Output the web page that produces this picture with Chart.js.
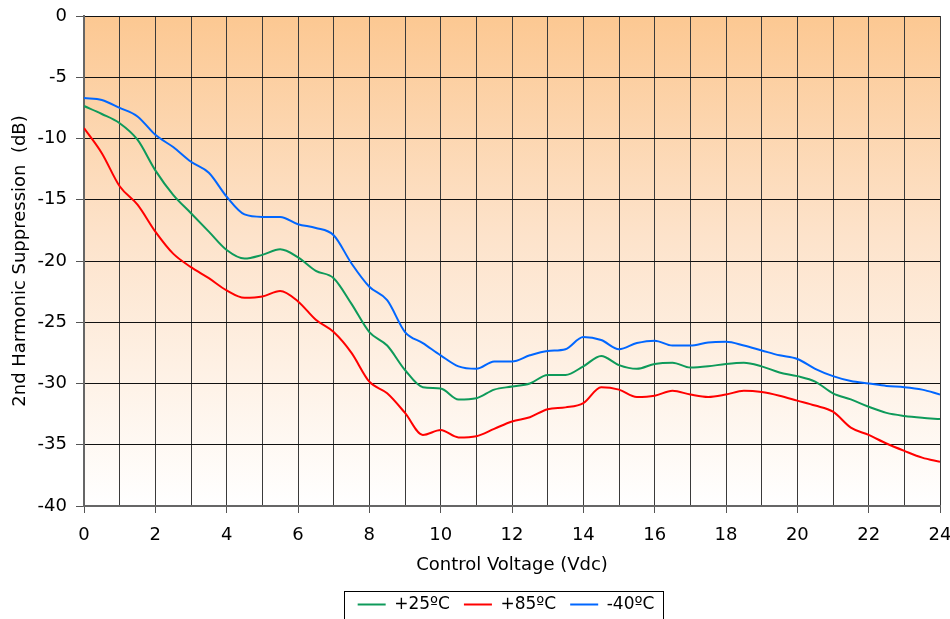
<!DOCTYPE html>
<html>
<head>
<meta charset="utf-8">
<script src="https://cdn.jsdelivr.net/npm/chart.js@4.4.1/dist/chart.umd.min.js"></script>
<style>
  html, body { margin: 0; padding: 0; background: #fff; }
  #wrap { width: 950px; height: 619px; }
</style>
</head>
<body>
<div id="wrap"><canvas id="harmChart" width="950" height="619"></canvas></div>
<script>
// Control voltage (Vdc), sampled every 0.5 V
const VOLTS = [0, 0.5, 1, 1.5, 2, 2.5, 3, 3.5, 4, 4.5, 5, 5.5, 6, 6.5, 7, 7.5, 8, 8.5, 9, 9.5, 10, 10.5, 11, 11.5,
               12, 12.5, 13, 13.5, 14, 14.5, 15, 15.5, 16, 16.5, 17, 17.5, 18, 18.5, 19, 19.5, 20, 20.5, 21, 21.5,
               22, 22.5, 23, 23.5, 24];

// 2nd harmonic suppression (dB)
const T_PLUS25 = [-7.35, -8.0, -8.75, -10.1, -12.6, -14.6, -16.1, -17.6, -19.1, -19.8, -19.5, -19.05, -19.7, -20.8, -21.4, -23.5,
                  -25.8, -26.9, -28.9, -30.3, -30.4, -31.3, -31.2, -30.5, -30.25, -30.0, -29.3, -29.3, -28.6, -27.75, -28.5, -28.8,
                  -28.4, -28.3, -28.7, -28.6, -28.4, -28.3, -28.6, -29.1, -29.4, -29.85, -30.8, -31.3, -31.9, -32.4, -32.65, -32.8, -32.9];
const T_PLUS85 = [-9.15, -11.2, -13.9, -15.4, -17.6, -19.4, -20.5, -21.4, -22.4, -23.0, -22.9, -22.45, -23.3, -24.8, -25.8, -27.5,
                  -29.85, -30.8, -32.4, -34.2, -33.8, -34.4, -34.3, -33.7, -33.1, -32.75, -32.1, -31.95, -31.6, -30.3, -30.5, -31.1,
                  -31.0, -30.6, -30.9, -31.1, -30.9, -30.6, -30.7, -31.0, -31.4, -31.8, -32.3, -33.6, -34.2, -34.9, -35.5, -36.05, -36.4];
const T_MINUS40 = [-6.7, -6.85, -7.5, -8.2, -9.7, -10.7, -11.9, -12.8, -14.75, -16.2, -16.4, -16.4, -17.0, -17.3, -17.9, -20.2,
                   -22.1, -23.2, -25.8, -26.7, -27.7, -28.6, -28.8, -28.2, -28.2, -27.7, -27.35, -27.2, -26.2, -26.45, -27.2, -26.7,
                   -26.5, -26.9, -26.9, -26.65, -26.6, -26.9, -27.3, -27.7, -28.0, -28.8, -29.4, -29.8, -30.0, -30.2, -30.3, -30.5, -30.9];

const SERIES_LABELS = ['+25ºC', '+85ºC', '-40ºC'];
const SERIES_COLORS = ['#0E9A5A', '#FF0000', '#0066FF'];

const Y_MIN = -40, Y_MAX = 0, Y_STEP = 5;
const X_MIN = 0, X_MAX = 24;

const FONT = "'DejaVu Sans', Verdana, sans-serif";
const LEGEND_PAD = 14;
const LEGEND_CENTER_X = 506;

function toPoints(vals) {
  return VOLTS.map((v, i) => ({ x: v, y: vals[i] }));
}

// peach-to-white fill behind the plot
const plotBackground = {
  id: 'plotBackground',
  beforeDraw(chart) {
    const { ctx, chartArea: a } = chart;
    const g = ctx.createLinearGradient(0, a.top, 0, a.bottom);
    g.addColorStop(0, '#FCC892');
    g.addColorStop(0.45, '#FDE3CB');
    g.addColorStop(1, '#FFFFFF');
    ctx.save();
    ctx.fillStyle = g;
    ctx.fillRect(a.left, a.top, a.right - a.left, a.bottom - a.top);
    ctx.restore();
  }
};

// nudge the legend under the plot and frame it
const legendFrame = {
  id: 'legendFrame',
  afterLayout(chart) {
    const lg = chart.legend;
    if (!lg) return;
    const shift = LEGEND_CENTER_X - (lg.left + lg.right) / 2;
    lg.left += shift;
    lg.right += shift;
  },
  afterDraw(chart) {
    const lg = chart.legend;
    if (!lg || !lg.lineWidths) return;
    const cx = (lg.left + lg.right) / 2;
    const cw = lg.lineWidths[0] - LEGEND_PAD;
    const left = Math.round(cx - cw / 2 - 14);
    const right = Math.round(cx + cw / 2 + 9);
    const top = Math.round(lg.top + 9);
    const { ctx } = chart;
    ctx.save();
    ctx.strokeStyle = '#000';
    ctx.lineWidth = 1;
    ctx.strokeRect(left + 0.5, top + 0.5, right - left, chart.height - top + 4);
    ctx.restore();
  }
};

const datasets = [T_PLUS25, T_PLUS85, T_MINUS40].map((vals, i) => ({
  label: SERIES_LABELS[i],
  data: toPoints(vals),
  borderColor: SERIES_COLORS[i],
  backgroundColor: SERIES_COLORS[i],
  borderWidth: 2,
  pointRadius: 0,
  tension: 0.4,
  cubicInterpolationMode: 'monotone',
  fill: false,
}));

new Chart(document.getElementById('harmChart'), {
  type: 'line',
  data: { datasets },
  plugins: [plotBackground, legendFrame],
  options: {
    responsive: false,
    animation: false,
    events: [],
    layout: { padding: { left: 6, right: 10, top: 16, bottom: -4 } },
    plugins: {
      legend: {
        position: 'bottom',
        labels: {
          color: '#000',
          font: { family: FONT, size: 17 },
          usePointStyle: true,
          pointStyle: 'line',
          pointStyleWidth: 28,
          boxHeight: 2,
          padding: LEGEND_PAD,
        }
      },
      tooltip: { enabled: false }
    },
    scales: {
      x: {
        type: 'linear',
        min: X_MIN, max: X_MAX,
        afterFit: s => { s.height = 76; s.paddingLeft = 0; s.paddingRight = 0; },
        ticks: {
          stepSize: 1,
          color: '#000',
          font: { family: FONT, size: 18 },
          padding: 12,
          maxRotation: 0,
          autoSkip: false,
          callback: v => (v % 2 === 0 ? v : '')
        },
        grid: {
          color: '#3a3a3a',
          lineWidth: 1,
          tickLength: 7,
          tickColor: c => (c.tick && c.tick.value % 2 === 0 ? '#555' : 'transparent')
        },
        border: { color: '#666', width: 2 },
        title: {
          display: true,
          text: 'Control Voltage (Vdc)',
          color: '#000',
          font: { family: FONT, size: 18 },
          padding: { top: 8, bottom: 6 }
        }
      },
      y: {
        min: Y_MIN, max: Y_MAX,
        afterFit: s => { s.width = 78; s.paddingTop = 0; s.paddingBottom = 0; },
        ticks: {
          stepSize: Y_STEP,
          color: '#000',
          font: { family: FONT, size: 18 },
          padding: 9
        },
        grid: {
          color: '#111',
          lineWidth: 1,
          tickLength: 8,
          tickColor: '#555'
        },
        border: { color: '#666', width: 2 },
        title: {
          display: true,
          text: '2nd Harmonic Suppression  (dB)',
          color: '#000',
          font: { family: FONT, size: 18 },
          padding: { top: 4, bottom: 0 }
        }
      }
    }
  }
});
</script>
</body>
</html>
